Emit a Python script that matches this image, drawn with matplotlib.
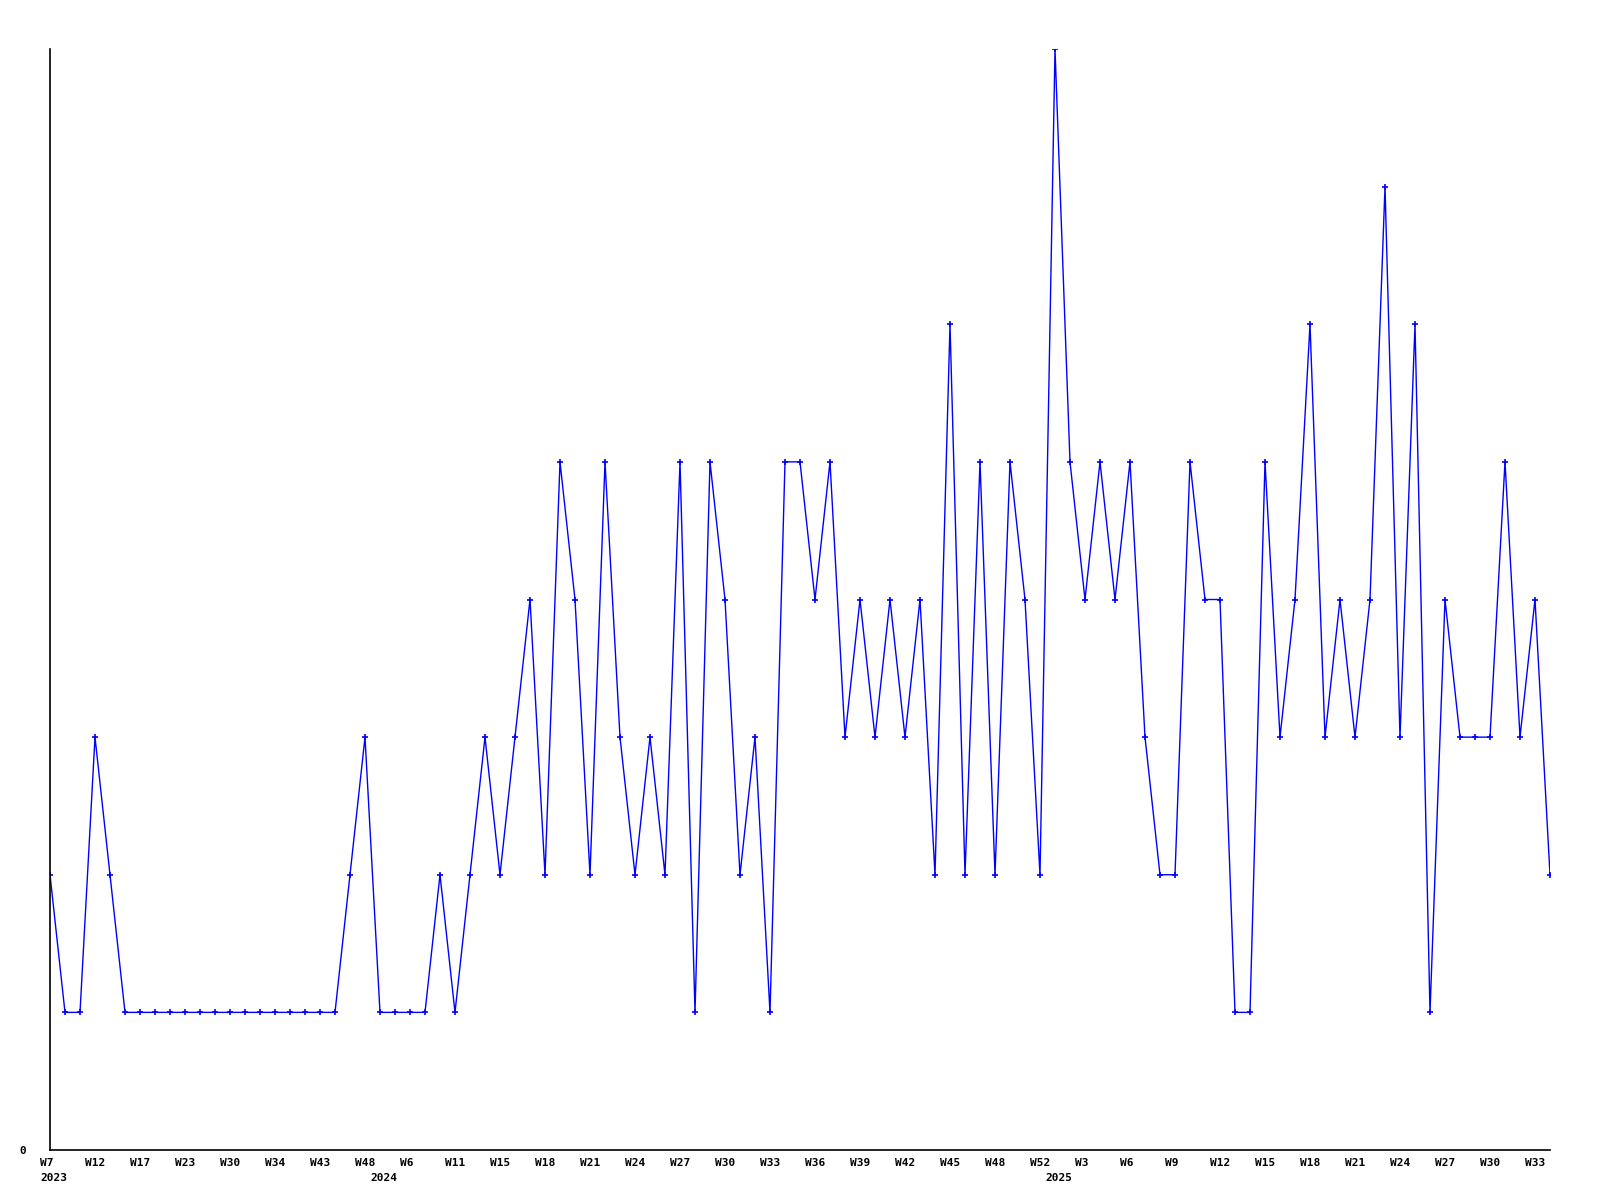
import matplotlib
matplotlib.use("Agg")
import matplotlib.pyplot as plt
import matplotlib.transforms as mtransforms

# weekly counts (one point per reported week)
valores = [2, 1, 1, 3, 2, 1, 1, 1, 1, 1, 1, 1, 1, 1, 1, 1, 1, 1, 1, 1,
           2, 3, 1, 1, 1, 1, 2, 1, 2, 3, 2, 3, 4, 2, 5, 4, 2, 5, 3, 2,
           3, 2, 5, 1, 5, 4, 2, 3, 1, 5, 5, 4, 5, 3, 4, 3, 4, 3, 4, 2,
           6, 2, 5, 2, 5, 4, 2, 8, 5, 4, 5, 4, 5, 3, 2, 2, 5, 4, 4, 1,
           1, 5, 3, 4, 6, 3, 4, 3, 4, 7, 3, 6, 1, 4, 3, 3, 3, 5, 3, 4, 2]

# etiquetas cada 3 semanas
semanas = ["W7", "W12", "W17", "W23", "W30", "W34", "W43", "W48", "W6",
           "W11", "W15", "W18", "W21", "W24", "W27", "W30", "W33", "W36",
           "W39", "W42", "W45", "W48", "W52", "W3", "W6", "W9", "W12",
           "W15", "W18", "W21", "W24", "W27", "W30", "W33"]
paso_etiqueta = 3

# primer punto de cada año
anios = ["2023", "2024", "2025"]
inicio_anio = [0, 22, 67]

fig = plt.figure(figsize=(16, 12), dpi=100)
ax = fig.add_axes([50 / 1600, 50 / 1200, 1500 / 1600, 1101 / 1200])

x = list(range(len(valores)))
ax.plot(x, valores, color="#0000ff", linewidth=1.0, marker="+",
        markersize=4, markeredgewidth=1.2)

ax.set_xlim(0, len(valores) - 1)
ax.set_ylim(0, max(valores))

for lado in ["top", "right"]:
    ax.spines[lado].set_visible(False)
for lado in ["left", "bottom"]:
    ax.spines[lado].set_color("black")
    ax.spines[lado].set_linewidth(1.2)

fuente = dict(family="DejaVu Sans Mono", weight="bold", size=8)

ax.set_yticks([0])
ax.set_yticklabels(["0"], **fuente)
ax.tick_params(axis="y", length=0, pad=17)

posiciones = [i * paso_etiqueta for i in range(len(semanas))]
ax.set_xticks(posiciones)
ax.set_xticklabels(semanas, ha="left", **fuente)
ax.tick_params(axis="x", length=0, pad=6)
desplazamiento = mtransforms.ScaledTranslation(-10 / 100, 0, fig.dpi_scale_trans)
for etiqueta in ax.get_xticklabels():
    etiqueta.set_transform(etiqueta.get_transform() + desplazamiento)

for anio, pos in zip(anios, inicio_anio):
    ax.annotate(anio, xy=(pos, 0), xycoords=("data", "axes fraction"),
                xytext=(-7.2, -16.5), textcoords="offset points",
                ha="left", va="top", **fuente)

fig.savefig("out.png", dpi=100, facecolor="white")
